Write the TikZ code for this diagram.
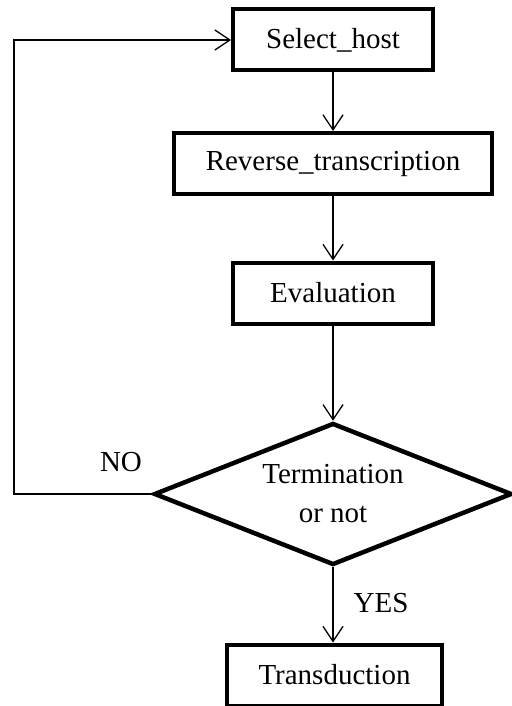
\documentclass[tikz,border=0pt]{standalone}
\usepackage{fontspec}
\setmainfont{Liberation Serif}
\usetikzlibrary{arrows.meta,shapes.geometric}
\begin{document}
\begin{tikzpicture}[x=1pt,y=-1pt,
  every node/.style={font=\fontsize{29}{39}\selectfont},
  stepbox/.style={draw,line width=4pt,inner sep=0pt,minimum height=61pt},
  decide/.style={draw,shape=diamond,aspect=2.53,line width=4.5pt,inner sep=0pt,minimum width=358pt,minimum height=142pt,align=center},
  conn/.style={line width=1.3pt,-{Straight Barb[length=15pt,width=20pt,line width=1.3pt]}},
  plain/.style={line width=1.3pt}]
\useasboundingbox (0,0) rectangle (511,706);
\node[stepbox,minimum width=200pt] (sel) at (333,40) {Select\_host};
\node[stepbox,minimum width=318pt] (rev) at (333,163.5) {Reverse\_transcription};
\node[stepbox,minimum width=200pt] (eval) at (333,293) {Evaluation};
\node[decide] (term) at (333,494) {Termination\\or not};
\node[stepbox,minimum width=215pt] (trans) at (334.5,675) {Transduction};
\node (no) at (121,462) {NO};
\node (yes) at (381,603) {YES};
\coordinate (lc) at (14,494);
\draw[conn] (sel) -- (rev);
\draw[conn] (rev) -- (eval);
\draw[conn] (eval) -- (term.north);
\draw[conn] (term.south) -- (term.south |- trans.north);
\draw[conn] (term.west) -- (lc) |- (sel.west);
\end{tikzpicture}
\end{document}
